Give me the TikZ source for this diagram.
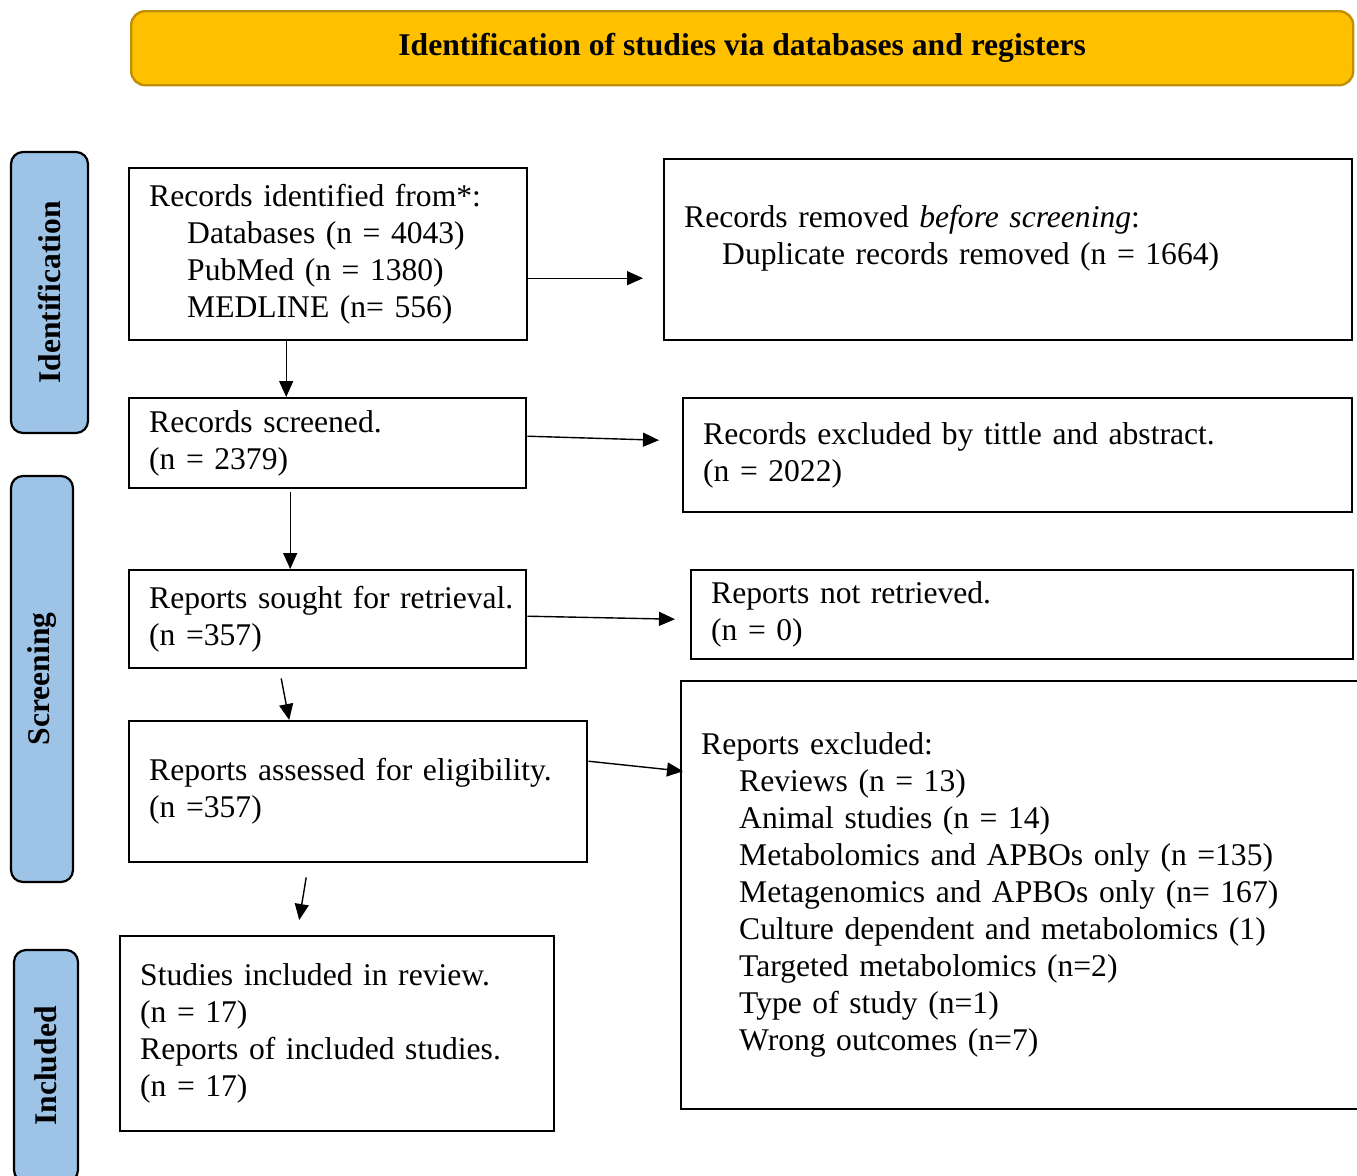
\documentclass[tikz,border=0pt]{standalone}
\usepackage{fontspec}
\setmainfont{Liberation Serif}
\usetikzlibrary{arrows.meta,positioning}
\definecolor{prismagold}{HTML}{FFC000}
\definecolor{prismaedge}{HTML}{BF9000}
\definecolor{prismablue}{HTML}{9DC3E6}

\begin{document}
\begin{tikzpicture}[x=0.5pt, y=-0.5pt,
   font=\fontsize{15.8}{18.5}\selectfont,
   stage/.style={draw=black, line width=1.2pt, align=left, anchor=north west, inner xsep=10pt, inner ysep=0pt},
   phase/.style={draw=black, line width=1.1pt, fill=prismablue, rounded corners=6pt, rotate=90, font=\fontsize{15.8}{18.5}\selectfont\bfseries, inner sep=0pt},
   flow/.style={-{Triangle[length=8pt,width=7pt]}, line width=0.7pt}]
   \path[use as bounding box, fill=white] (0,0) rectangle (1357,1175);

   % banner
   \node[draw=prismaedge, fill=prismagold, line width=1.2pt, rounded corners=7pt, minimum width=611pt, minimum height=37pt, anchor=north west, font=\fontsize{15.8}{18.5}\selectfont\bfseries] (head) at (130,10) {\raisebox{-1.5pt}{Identification of studies via databases and registers}};

   % phases on the left
   \node[phase, minimum width=140.5pt, minimum height=38.5pt] (sideid) at (49.5,292.5) {Identification};
   \node[phase, minimum width=203pt, minimum height=31pt] (sidescr) at (42,679) {Screening};
   \node[phase, minimum width=116pt, minimum height=32pt] (sideinc) at (46,1066) {Included};

   % boxes
   \node[stage, text width=179pt, minimum height=86pt] (ident) at (128,167) {Records identified from*:\\ \hspace*{19pt}Databases (n = 4043)\\ \hspace*{19pt}PubMed (n = 1380)\\ \hspace*{19pt}MEDLINE (n= 556)};
   \node[stage, text width=324pt, minimum height=90.5pt] (removed) at (663,158) {Records removed \textit{before screening}:\\ \hspace*{19pt}Duplicate records removed (n = 1664)\\[-4pt]\mbox{}};
   \node[stage, text width=178.5pt, minimum height=45pt] (screened) at (128,397) {Records screened.\\(n = 2379)};
   \node[stage, text width=314.5pt, minimum height=57pt] (excluded) at (682,397) {Records excluded by tittle and abstract.\\(n = 2022)};
   \node[stage, text width=178.5pt, minimum height=49pt] (sought) at (128,569) {\mbox{Reports sought for retrieval.}\\(n =357)};
   \node[stage, text width=311pt, minimum height=44.5pt] (notret) at (690,569) {Reports not retrieved.\\(n = 0)};
   \node[stage, text width=209pt, minimum height=70.5pt] (assessed) at (128,720) {Reports assessed for eligibility.\\(n =357)};
   \node[stage, text width=321pt, minimum height=214pt] (rexcl) at (680,680) {Reports excluded:\\
      \hspace*{19pt}Reviews (n = 13)\\
      \hspace*{19pt}Animal studies (n = 14)\\
      \hspace*{19pt}Metabolomics and APBOs only (n =135)\\
      \hspace*{19pt}Metagenomics and APBOs only (n= 167)\\
      \hspace*{19pt}Culture dependent and metabolomics (1)\\
      \hspace*{19pt}Targeted metabolomics (n=2)\\
      \hspace*{19pt}Type of study (n=1)\\
      \hspace*{19pt}Wrong outcomes (n=7)};
   \node[stage, text width=197pt, minimum height=97.5pt] (incl) at (119,935) {Studies included in review.\\(n = 17)\\Reports of included studies.\\(n = 17)};

   \path[flow]
     ([yshift=-12pt]ident.east) edge ([xshift=-10pt,yshift=-14.25pt]removed.west)
     ([xshift=-21pt]ident.south) edge ([xshift=-20.75pt]screened.north)
     ([yshift=3.5pt]screened.east) edge ([xshift=-11.5pt,yshift=7.5pt]excluded.west)
     ([xshift=-18.75pt,yshift=-1.5pt]screened.south) edge ([xshift=-18.75pt]sought.north)
     ([yshift=1.5pt]sought.east) edge ([xshift=-7.5pt,yshift=-2.25pt]notret.west)
     ([xshift=-23.25pt,yshift=-4.5pt]sought.south) edge ([xshift=-34.5pt]assessed.north)
     ([yshift=15.25pt]assessed.east) edge ([xshift=1.5pt,yshift=62pt]rexcl.west)
     ([xshift=-26pt,yshift=-7pt]assessed.south) edge ([xshift=-19pt,yshift=7.5pt]incl.north);
\end{tikzpicture}
\end{document}
